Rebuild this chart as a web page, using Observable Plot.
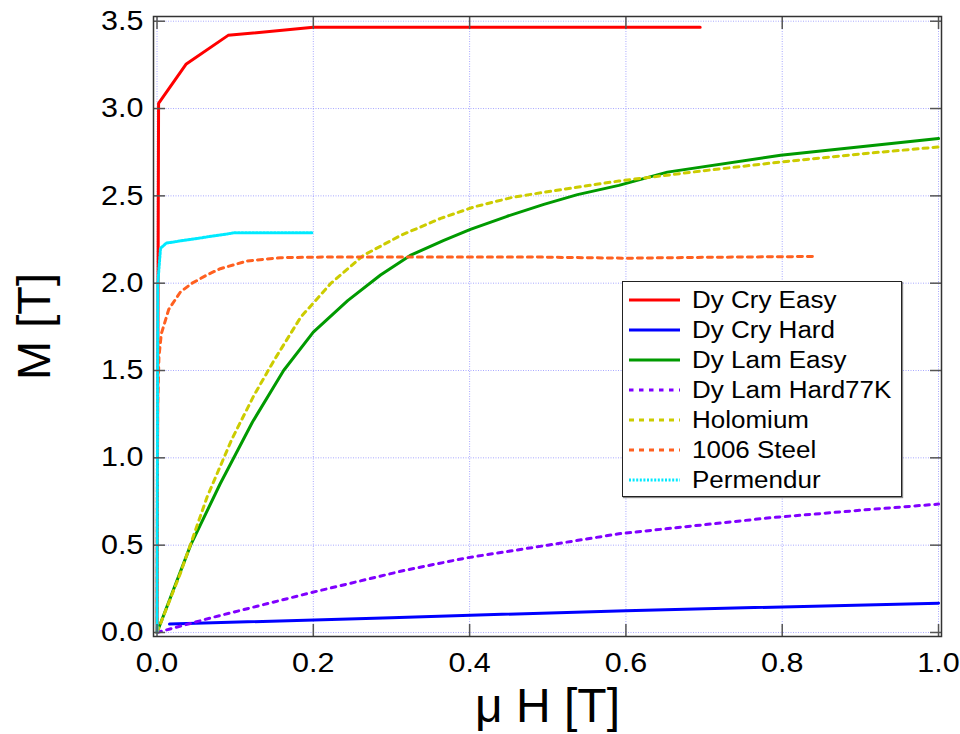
<!DOCTYPE html>
<html>
<head>
<meta charset="utf-8">
<script src="https://cdn.jsdelivr.net/npm/d3@7"></script>
<script src="https://cdn.jsdelivr.net/npm/@observablehq/plot@0.6"></script>
<style>
html, body { margin: 0; padding: 0; background: #fff; }
#wrap { position: relative; width: 960px; height: 734px; font-family: "Liberation Sans", Arial, sans-serif; overflow: hidden; }
#wrap svg.plot { position: absolute; left: 0; top: 0; }
#legend { position: absolute; left: 622px; top: 281px; width: 278px; height: 214px; border: 1px solid #222; box-shadow: 1px 1px 1px #888; background: #fff; }
.row { position: absolute; left: 0; height: 30px; display: flex; align-items: center; white-space: nowrap; }
.row svg { margin-left: 6px; flex: none; }
.row span { font-size: 23px; margin-left: 12px; color: #000; display: inline-block; transform: scaleX(1.13); transform-origin: left center; }
</style>
</head>
<body>
<div id="wrap"></div>
<script>
// ---- data ----
const xTicks = [0.0, 0.2, 0.4, 0.6, 0.8, 1.0];
const yTicks = [0.0, 0.5, 1.0, 1.5, 2.0, 2.5, 3.0, 3.5];

const seriesNames = ["Dy Cry Easy", "Dy Cry Hard", "Dy Lam Easy", "Dy Lam Hard77K", "Holomium", "1006 Steel", "Permendur"];
const seriesColors = ["#ff0000", "#0000ff", "#009a00", "#8000ff", "#cccc00", "#ff6020", "#00eaff"];
const seriesDash = [null, null, null, "4.5,5.5", "5,5", "5,5", "2,1.6"];

// [muH (T), M (T)]
const dyCryEasy = [[0, 0], [0.002, 3.03], [0.037, 3.253], [0.091, 3.419], [0.2, 3.465], [0.695, 3.466]];
const dyCryHard = [[0.016, 0.048], [0.3, 0.085], [0.6, 0.125], [1.0, 0.168]];
const dyLamEasy = [[0, 0], [0.043, 0.50], [0.081, 0.853], [0.122, 1.204], [0.162, 1.50], [0.2, 1.72], [0.244, 1.90],
  [0.286, 2.047], [0.324, 2.159], [0.367, 2.245], [0.401, 2.308], [0.448, 2.383], [0.495, 2.451], [0.538, 2.507],
  [0.591, 2.56], [0.653, 2.636], [0.798, 2.732], [1.0, 2.828]];
const dyLamHard77K = [[0, 0], [0.07, 0.085], [0.199, 0.23], [0.316, 0.355], [0.397, 0.428], [0.5, 0.50],
  [0.591, 0.565], [0.7, 0.617], [0.785, 0.657], [0.9, 0.70], [1.0, 0.735]];
const holmium = [[0, 0], [0.03, 0.34], [0.064, 0.775], [0.096, 1.109], [0.124, 1.357], [0.15, 1.56], [0.184, 1.806],
  [0.222, 1.997], [0.264, 2.159], [0.312, 2.274], [0.363, 2.371], [0.405, 2.436], [0.456, 2.493], [0.525, 2.541],
  [0.591, 2.585], [0.696, 2.642], [0.798, 2.694], [0.9, 2.74], [1.0, 2.78]];
const steel1006 = [[0, 0], [0.0008, 1.3], [0.0025, 1.58], [0.0055, 1.71], [0.015, 1.85], [0.03, 1.95], [0.045, 2.0],
  [0.065, 2.05], [0.081, 2.083], [0.115, 2.127], [0.158, 2.146], [0.22, 2.15], [0.48, 2.15], [0.6, 2.143],
  [0.7, 2.148], [0.84, 2.153]];
const permendur = [[0, 0], [0.001, 2.0], [0.0045, 2.2], [0.012, 2.23], [0.1, 2.289], [0.2, 2.289]];

const seriesData = [dyCryEasy, dyCryHard, dyLamEasy, dyLamHard77K, holmium, steel1006, permendur];

// ---- chart ----
const fmt = d3.format(".1f");
const lineMarks = seriesData.map((data, i) => Plot.line(data, {
  x: d => d[0], y: d => d[1],
  stroke: seriesColors[i], strokeWidth: 3,
  strokeDasharray: seriesDash[i] || undefined,
  strokeLinejoin: "round"
}));

const tickStyle = {stroke: "#555", strokeWidth: 1.5, tickSize: -12, tickFormat: () => "", label: null};
const gridStyle = {stroke: "#8c8cff", strokeOpacity: 0.75, strokeDasharray: "1,1.5", strokeWidth: 1};

const chart = Plot.plot({
  width: 960, height: 734,
  marginLeft: 153, marginRight: 19, marginTop: 16, marginBottom: 98,
  x: {domain: [-0.0045, 1.0038], label: null},
  y: {domain: [-0.023, 3.527], label: null},
  style: {fontFamily: "'Liberation Sans', Arial, sans-serif", background: "white", color: "#000"},
  marks: [
    Plot.gridX(xTicks, gridStyle),
    Plot.gridY(yTicks, gridStyle),
    ...lineMarks,
    Plot.axisX(xTicks, {anchor: "bottom", ...tickStyle}),
    Plot.axisX(xTicks, {anchor: "top", ...tickStyle}),
    Plot.axisY(yTicks, {anchor: "left", ...tickStyle}),
    Plot.axisY(yTicks, {anchor: "right", ...tickStyle}),
    Plot.axisX(xTicks, {anchor: "bottom", tickSize: 0, tickPadding: 16, tickFormat: fmt, fontSize: 27, label: null, fill: "#000"}),
    Plot.axisY(yTicks, {anchor: "left", tickSize: 0, tickPadding: 10, tickFormat: fmt, fontSize: 27, label: null, fill: "#000"}),
    Plot.frame({stroke: "#333", strokeWidth: 1.5}),
    Plot.text(["μ H [T]"], {text: d => d, frameAnchor: "bottom", dy: 70, lineAnchor: "middle", fontSize: 48, fill: "#000"}),
    Plot.text(["M [T]"], {text: d => d, frameAnchor: "left", dx: -119, rotate: -90, lineAnchor: "middle", textAnchor: "middle", fontSize: 47, fill: "#000"})
  ]
});
chart.classList.add("plot");

// horizontally widen tick labels to match reference glyph proportions
d3.select(chart).selectAll('g[aria-label="x-axis tick label"] text, g[aria-label="y-axis tick label"] text').each(function() {
  const t = this.getAttribute("transform");
  if (t) this.setAttribute("transform", t + " scale(1.13,1)");
});

const wrap = document.getElementById("wrap");
wrap.appendChild(chart);

// ---- legend (inside plot area) ----
const legend = document.createElement("div");
legend.id = "legend";
seriesNames.forEach((name, i) => {
  const row = document.createElement("div");
  row.className = "row";
  row.style.top = (3 + 30 * i) + "px";
  const dash = seriesDash[i] ? ` stroke-dasharray="${seriesDash[i]}"` : "";
  row.innerHTML = `<svg width="51" height="30"><line x1="0" x2="51" y1="15" y2="15" stroke="${seriesColors[i]}" stroke-width="3"${dash}/></svg><span>${name}</span>`;
  legend.appendChild(row);
});
wrap.appendChild(legend);
</script>
</body>
</html>
